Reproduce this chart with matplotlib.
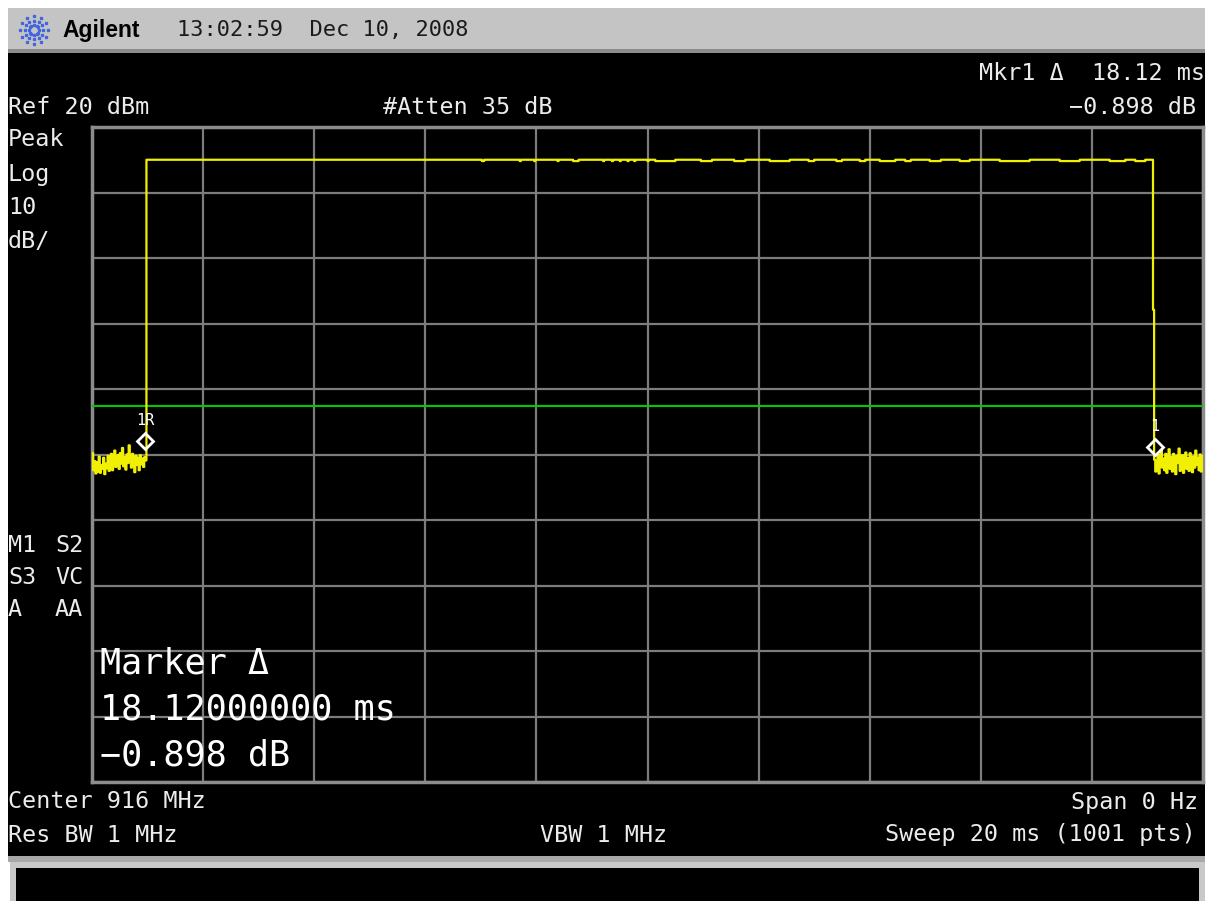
import numpy as np
import matplotlib.pyplot as plt
from matplotlib.patches import Rectangle

# --- trace data (dBm, 0.02 ms per point) ---
left_noise = [-29.8, -32.4, -31.0, -32.9, -31.2, -32.6, -30.3, -32.8, -31.6, -32.2,
              -30.5, -33.0, -31.4, -32.1, -30.2, -32.5, -31.2, -29.9, -32.4, -31.0,
              -29.4, -31.9, -30.8, -30.1, -32.2, -29.8, -31.4, -29.0, -31.8, -30.4,
              -32.3, -30.0, -31.3, -28.6, -30.7, -32.0, -29.9, -31.5, -32.7, -30.2,
              -31.6, -30.5, -32.4, -30.1, -31.5, -30.6, -31.9, -30.4, -30.9]
right_noise = [-30.8, -32.6, -31.6, -30.0, -32.9, -31.2, -29.3, -32.0, -30.6, -32.4,
               -29.9, -32.8, -31.4, -29.2, -32.2, -30.4, -32.6, -29.9, -31.7, -33.0,
               -30.2, -31.3, -29.1, -32.5, -31.0, -30.1, -32.8, -31.7, -29.7, -32.2,
               -30.6, -32.5, -29.8, -31.4, -32.7, -30.3, -32.0, -29.4, -31.6, -30.5,
               -32.4, -30.0, -32.6, -31.2, -30.2]
plateau_level = 15.0
dip_level = 14.8
dip_start = [7.02, 7.70, 7.96, 8.38, 8.66, 9.20, 9.36, 9.50, 9.64, 9.76, 10.00,
             10.14, 10.96, 11.56, 12.20, 12.90, 13.40, 13.82, 14.18, 14.64, 15.08,
             15.62, 16.34, 17.42, 18.32, 18.78]
dip_end = [7.06, 7.72, 7.98, 8.40, 8.76, 9.22, 9.38, 9.52, 9.66, 9.78, 10.02,
           10.50, 11.16, 11.76, 12.56, 13.00, 13.50, 13.92, 14.46, 14.74, 15.28,
           15.80, 16.88, 17.78, 18.60, 18.96]
rise_ms = 0.98
fall_ms = 19.10
fall_step = -7.9
display_line = -22.6
marker_t = [0.96, 19.14]
marker_amp = [-27.9, -28.9]
marker_lbl = ['1R', '1']

dt = 0.02
n_pts = 1001
t = np.arange(n_pts) * dt
trace = np.full(n_pts, plateau_level)
for a, b in zip(dip_start, dip_end):
    trace[(t >= a - 1e-6) & (t < b - 1e-6)] = dip_level
i_rise = int(round(rise_ms / dt))
i_fall = int(round(fall_ms / dt))
trace[:i_rise] = left_noise
trace[i_fall] = fall_step
trace[i_fall + 1:] = right_noise

W, H = 1213, 901
fig = plt.figure(figsize=(W / 100, H / 100), dpi=100)
fig.patch.set_facecolor('white')

def box(x0, y0, x1, y1, color):
    fig.add_artist(Rectangle((x0 / W, 1 - y1 / H), (x1 - x0) / W, (y1 - y0) / H,
                             transform=fig.transFigure, color=color, zorder=-5, lw=0))

box(8, 8, 1205, 51, '#c4c4c4')
box(8, 49, 1205, 53, '#8c8c8c')
box(8, 53, 1205, 856, 'black')
box(8, 856, 1205, 862, '#a8a8a8')
box(10, 862, 1205, 901, '#c8c8c8')
box(16, 868, 1199, 901, 'black')

ax = fig.add_axes([92 / W, 1 - 782 / H, 1111 / W, 655 / H])
ax.set_facecolor('black')
ax.set_xlim(0, 20)
ax.set_ylim(-80, 20)
ax.set_xticks(np.arange(0, 21, 2))
ax.set_yticks(np.arange(-80, 21, 10))
ax.tick_params(length=0, labelbottom=False, labelleft=False)
ax.grid(True, color='#7c7c7c', lw=1.6)
for s in ax.spines.values():
    s.set_color('#8c8c8c')
    s.set_linewidth(2.5)

ax.axhline(display_line, color='#00c800', lw=1.5, zorder=3)
ax.plot(t, trace, color='#f0f000', lw=1.6, drawstyle='steps-post', zorder=4)
ax.plot(marker_t, marker_amp, ls='none', marker='D', ms=8, mfc='none',
        mec='white', mew=2, zorder=5)
for mt, ma, lb in zip(marker_t, marker_amp, marker_lbl):
    ax.text(mt, ma + 2.0, lb, color='white', fontsize=11, ha='center', va='bottom',
            family='DejaVu Sans Mono', zorder=5)

# logo starburst
lax = fig.add_axes([18 / W, 1 - 46 / H, 32 / W, 32 / H])
lax.set_xlim(-1.1, 1.1)
lax.set_ylim(-1.1, 1.1)
lax.axis('off')
for ang in np.arange(0, 360, 30):
    r = np.array([0.35, 0.65, 0.95])
    lax.plot(r * np.cos(np.radians(ang)), r * np.sin(np.radians(ang)), ls='none',
             marker='s', ms=1.4, color='#4466dd')

mono = 'DejaVu Sans Mono'

def txt(x, y, s, size=16.8, color='#ececec', ha='left', **kw):
    fig.text(x / W, 1 - y / H, s, fontsize=size, color=color, ha=ha, va='center',
             family=kw.pop('family', mono), **kw)

txt(62, 30, 'Agilent', size=16.5, color='black', family='Liberation Sans', weight='bold')
txt(177, 30, '13:02:59  Dec 10, 2008', size=15.8, color='#1a1a1a')

txt(1205, 74, 'Mkr1 Δ  18.12 ms', ha='right')
txt(8, 107, 'Ref 20 dBm')
txt(383, 107, '#Atten 35 dB')
txt(1196, 107, '\u22120.898 dB', ha='right')

for yy, s in zip([140, 175, 208, 242], ['Peak', 'Log', '10', 'dB/']):
    txt(8, yy, s)
for yy, a, b in zip([545, 578, 610], ['M1', 'S3', 'A'], ['S2', 'VC', 'AA']):
    txt(8, yy, a)
    txt(55, yy, b)

txt(100, 663, 'Marker Δ', size=25.3, color='white')
txt(100, 710, '18.12000000 ms', size=25.3, color='white')
txt(100, 755, '\u22120.898 dB', size=25.3, color='white')

txt(8, 802, 'Center 916 MHz')
txt(1198, 802, 'Span 0 Hz', ha='right')
txt(8, 835, 'Res BW 1 MHz')
txt(540, 835, 'VBW 1 MHz')
txt(1196, 835, 'Sweep 20 ms (1001 pts)', ha='right')

fig.savefig('out.png', dpi=100)
